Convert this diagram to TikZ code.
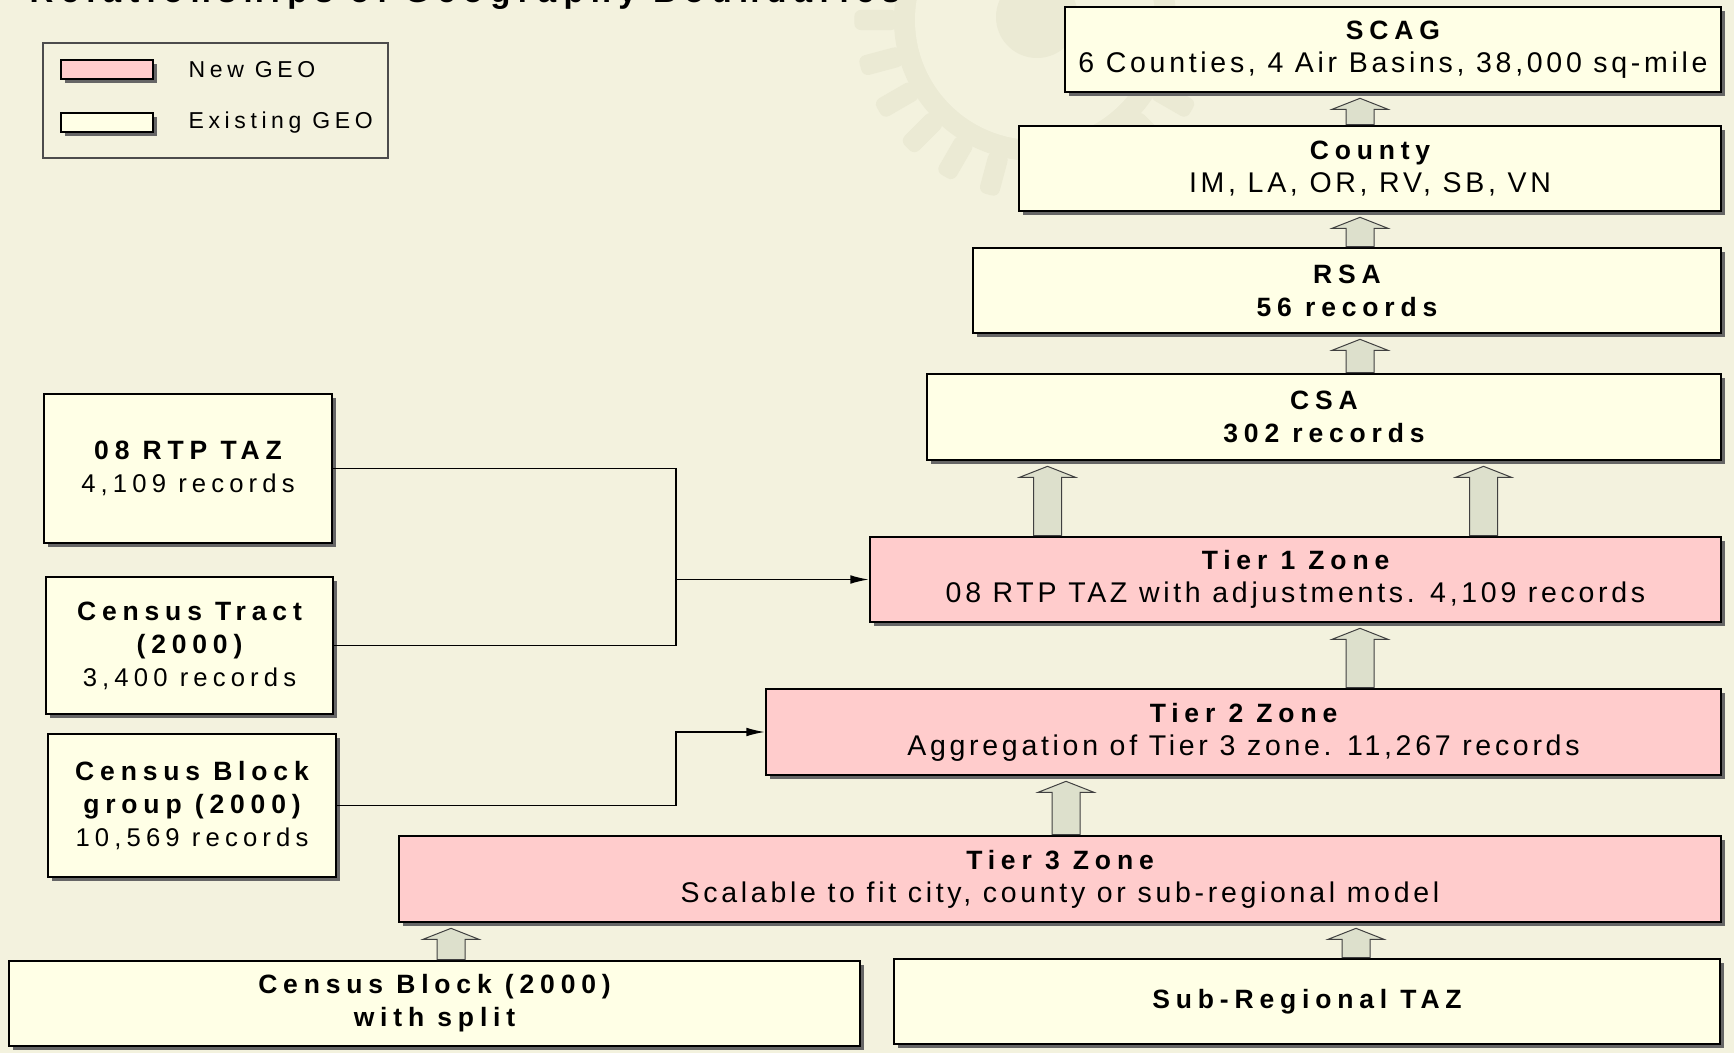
\documentclass[tikz,border=0pt]{standalone}
\usepackage{fontspec}
\setmainfont{Liberation Sans}
\usetikzlibrary{calc}
\usetikzlibrary{arrows.meta}
\usetikzlibrary{shadows}

\definecolor{paper}{RGB}{243,242,222}
\definecolor{gearc}{RGB}{235,234,212}
\definecolor{oldgeo}{RGB}{255,255,230}
\definecolor{newgeo}{RGB}{255,204,204}
\definecolor{arrfill}{RGB}{221,224,204}

\newcommand{\hd}[1]{{\fontsize{7.95}{9.9}\selectfont\bfseries\addfontfeatures{LetterSpace=22}#1}}

\tikzset{
  geo/.style={draw=black,line width=0.8pt,align=center,inner sep=0pt,
    font=\fontsize{8.55}{9.9}\selectfont\addfontfeatures{LetterSpace=13},
    drop shadow={shadow xshift=1.1pt,shadow yshift=-1.1pt,fill=black!60,opacity=1}},
  oldbox/.style={geo,fill=oldgeo},
  newbox/.style={geo,fill=newgeo},
  sidebox/.style={oldbox,font=\fontsize{7.7}{9.9}\selectfont\addfontfeatures{LetterSpace=20}},
  bigarrow/.style={fill=arrfill,draw=black!75,line width=0.3pt},
  link/.style={line width=0.4pt},
  keytext/.style={anchor=west,inner sep=0pt,font=\fontsize{6.9}{9.9}\selectfont\addfontfeatures{LetterSpace=20}}
}

% block arrow: x, lower node, upper node
\newcommand{\geoarrow}[3]{%
  \coordinate (b) at (#1,0 |- #2.north);
  \coordinate (t) at ($(#1,0 |- #3.south)+(0,5)$);
  \filldraw[bigarrow] ($(b)+(-14,0)$) -- ($(t)+(-14,11)$) -- ($(t)+(-28,11)$) -- (t)
    -- ($(t)+(28,11)$) -- ($(t)+(14,11)$) -- ($(b)+(14,0)$) -- cycle;}

\begin{document}
\begin{tikzpicture} [x=0.3pt,y=-0.3pt]

\useasboundingbox (0,0) rectangle (1734,1053);
\fill[paper] (0,0) rectangle (1734,1053);
\clip (0,0) rectangle (1734,1053);

\coordinate (gear) at (1035,20);
\fill[gearc] (gear) circle (141);
\foreach \a in {0,15,...,345}
  \fill[gearc,rounded corners=2pt] ($(gear)+({\a-3.2}:181)$) -- ($(gear)+({\a+3.2}:181)$)
    -- ($(gear)+({\a+4.2}:138)$) -- ($(gear)+({\a-4.2}:138)$) -- cycle;
\fill[paper] (gear) circle (120);
\fill[gearc] (1037,17) circle (41);

\node[anchor=base west,inner sep=0pt,font=\fontsize{9.9}{11}\selectfont\bfseries\addfontfeatures{LetterSpace=22}] (title) at (29,3) {Relationships of Geography Boundaries};

\draw[black!70,line width=0.4pt] (43,43) rectangle (388,158);
\node[newbox,minimum width=27.6pt,minimum height=5.7pt] (keynew) at (107,69.5) {};
\node[oldbox,minimum width=27.6pt,minimum height=5.7pt] (keyold) at (107,122.5) {};
\node[keytext] (keynewtxt) at (188,69.5) {New GEO};
\node[keytext] (keyoldtxt) at (188,122.5) {Existing GEO};

\node[oldbox,minimum width=196.8pt,minimum height=25.5pt] (scag) at (1393,49.5) {\hd{SCAG}\\6 Counties, 4 Air Basins, 38,000 sq-mile};
\node[oldbox,minimum width=210.6pt,minimum height=25.5pt] (county) at (1370,168.5) {\hd{County}\\IM, LA, OR, RV, SB, VN};
\node[oldbox,minimum width=224.4pt,minimum height=25.5pt] (rsa) at (1347,290.5) {\hd{RSA}\\\hd{56 records}};
\node[oldbox,minimum width=238.2pt,minimum height=25.8pt] (csa) at (1324,417) {\hd{CSA}\\\hd{302 records}};
\node[newbox,minimum width=255.3pt,minimum height=25.5pt] (tier1) at (1295.5,579.5) {\hd{Tier 1 Zone}\\08 RTP TAZ with adjustments. 4,109 records};
\node[newbox,minimum width=286.5pt,minimum height=25.8pt] (tier2) at (1243.5,732) {\hd{Tier 2 Zone}\\Aggregation of Tier 3 zone. 11,267 records};
\node[newbox,minimum width=396.6pt,minimum height=25.8pt] (tier3) at (1060,879) {\hd{Tier 3 Zone}\\Scalable to fit city, county or sub-regional model};
\node[oldbox,minimum width=255.3pt,minimum height=25.5pt] (block) at (434.5,1003.5) {\hd{Census Block (2000)}\\\hd{with split}};
\node[oldbox,minimum width=247.8pt,minimum height=25.5pt] (subtaz) at (1307,1001.5) {\hd{Sub-Regional TAZ}};

\node[sidebox,minimum width=86.4pt,minimum height=44.7pt] (rtp) at (188,468.5) {\hd{08 RTP TAZ}\\4,109 records};
\node[sidebox,minimum width=86.1pt,minimum height=41.1pt] (tract) at (189.5,645.5) {\hd{Census Tract}\\\hd{(2000)}\\3,400 records};
\node[sidebox,minimum width=86.4pt,minimum height=42.9pt] (group) at (192,805.5) {\hd{Census Block}\\\hd{group (2000)}\\10,569 records};

\geoarrow{1360}{county}{scag}
\geoarrow{1360}{rsa}{county}
\geoarrow{1360}{csa}{rsa}
\geoarrow{1047.5}{tier1}{csa}
\geoarrow{1483.5}{tier1}{csa}
\geoarrow{1360}{tier2}{tier1}
\geoarrow{1066}{tier3}{tier2}
\geoarrow{451}{block}{tier3}
\geoarrow{1356}{subtaz}{tier3}

\coordinate (jn) at (676,0 |- tier1.west);
\draw[link] (rtp.east) -| (jn);
\draw[link] (tract.east) -| (jn);
\draw[link,-{Latex[length=5.5pt,width=2.6pt]}] (jn) -- (tier1.west);
\draw[link,-{Latex[length=5.5pt,width=2.6pt]}] (group.east) -| (jn |- tier2.west) -- (tier2.west);

\end{tikzpicture}
\end{document}
